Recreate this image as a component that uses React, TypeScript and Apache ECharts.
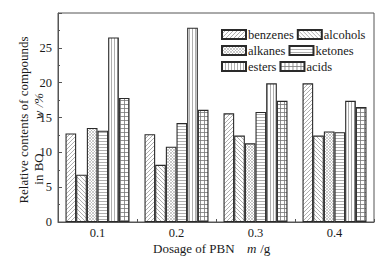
import React, { useEffect, useRef } from "react";
import * as echarts from "echarts";

const categories = ["0.1", "0.2", "0.3", "0.4"];
const seriesNames = ["benzenes", "alcohols", "alkanes", "ketones", "esters", "acids"];
const benzenes = [12.7, 12.6, 15.6, 19.9];
const alcohols = [6.8, 8.2, 12.4, 12.4];
const alkanes = [13.5, 10.8, 11.3, 13.0];
const ketones = [13.1, 14.2, 15.8, 12.9];
const esters = [26.5, 27.9, 19.9, 17.4];
const acids = [17.8, 16.1, 17.4, 16.5];
const yTicks = [0, 5, 10, 15, 20, 25];

const FONT = "Liberation Serif";

function makeTile(kind: string) {
  const s = kind === "alkanes" ? 3 : kind === "ketones" || kind === "esters" ? 3 : 4;
  const c = document.createElement("canvas");
  c.width = s;
  c.height = s;
  const g = c.getContext("2d")!;
  g.fillStyle = "#ffffff";
  g.fillRect(0, 0, s, s);
  g.strokeStyle = "#9a9a9a";
  g.lineWidth = 0.8;
  const line = (x1: number, y1: number, x2: number, y2: number) => {
    g.beginPath();
    g.moveTo(x1, y1);
    g.lineTo(x2, y2);
    g.stroke();
  };
  const fwd = () => {
    line(-1, s + 1, s + 1, -1);
    line(-1, 1, 1, -1);
    line(s - 1, s + 1, s + 1, s - 1);
  };
  const back = () => {
    line(-1, -1, s + 1, s + 1);
    line(s - 1, -1, s + 1, 1);
    line(-1, s - 1, 1, s + 1);
  };
  if (kind === "benzenes") fwd();
  else if (kind === "alcohols") back();
  else if (kind === "alkanes") {
    g.strokeStyle = "#a8a8a8";
    g.lineWidth = 0.6;
    fwd();
    back();
  } else if (kind === "ketones") {
    line(0, 0.5, s, 0.5);
  } else if (kind === "esters") {
    line(0.5, 0, 0.5, s);
  } else if (kind === "acids") {
    g.strokeStyle = "#777777";
    line(0, 0.5, s, 0.5);
    line(0.5, 0, 0.5, s);
  }
  return { image: c, repeat: "repeat", imageWidth: s, imageHeight: s };
}

export default function App() {
  const ref = useRef<HTMLDivElement>(null);
  useEffect(() => {
    if (!ref.current) return;
    const chart = echarts.init(ref.current, undefined, { renderer: "svg" });
    const dataSets = [benzenes, alcohols, alkanes, ketones, esters, acids];
    const series = seriesNames.map((name, i) => ({
      name,
      type: "bar",
      data: dataSets[i],
      barGap: "0%",
      barCategoryGap: "19%",
      itemStyle: {
        color: makeTile(name) as any,
        borderColor: "#2a2a2a",
        borderWidth: 1.1,
      },
      emphasis: { disabled: true },
    }));
    chart.setOption({
      animation: false,
      textStyle: { fontFamily: FONT },
      grid: {
        left: 58,
        right: 11,
        top: 13,
        bottom: 38,
        show: true,
        borderColor: "#555",
        borderWidth: 1,
        backgroundColor: "transparent",
      },
      legend: {
        left: 221,
        top: 28,
        width: 148,
        orient: "horizontal",
        itemWidth: 24,
        itemHeight: 9,
        itemGap: 3,
        icon: "rect",
        padding: 0,
        textStyle: {
          fontFamily: FONT,
          fontSize: 12.5,
          color: "#1a1a1a",
          padding: [0, 0, 0, -3],
          lineHeight: 10,
        },
        data: seriesNames,
      },
      xAxis: {
        type: "category",
        data: categories,
        axisLine: { show: true, lineStyle: { color: "#555", width: 1 } },
        axisTick: { show: true, inside: true, length: 3, lineStyle: { color: "#555" } },
        axisLabel: { fontFamily: FONT, fontSize: 12.5, color: "#1a1a1a", margin: 4 },
        splitLine: { show: false },
      },
      yAxis: {
        type: "value",
        min: 0,
        max: 30,
        interval: 5,
        axisLine: { show: true, lineStyle: { color: "#555", width: 1 } },
        axisTick: { show: true, inside: true, length: 4, lineStyle: { color: "#555" } },
        minorTick: { show: true, splitNumber: 2, length: 2, lineStyle: { color: "#555" } },
        axisLabel: {
          fontFamily: FONT,
          fontSize: 12.5,
          color: "#1a1a1a",
          margin: 6,
          formatter: (v: number) => (yTicks.indexOf(v) >= 0 ? String(v) : ""),
        },
        splitLine: { show: false },
      },
      series,
      graphic: [
        {
          type: "text",
          x: 23,
          y: 120,
          rotation: Math.PI / 2,
          style: {
            text: "Relative contents of compounds",
            font: `13px ${FONT}`,
            fill: "#1a1a1a",
            textAlign: "center",
            textVerticalAlign: "middle",
          },
        },
        {
          type: "text",
          x: 38,
          y: 169,
          rotation: Math.PI / 2,
          style: {
            text: "in BO",
            font: `13px ${FONT}`,
            fill: "#1a1a1a",
            textAlign: "center",
            textVerticalAlign: "middle",
          },
        },
        {
          type: "text",
          x: 38,
          y: 106,
          rotation: Math.PI / 2,
          style: {
            text: "w /%",
            font: `italic 13px ${FONT}`,
            fill: "#1a1a1a",
            textAlign: "center",
            textVerticalAlign: "middle",
          },
        },
        {
          type: "text",
          x: 153,
          y: 248,
          style: {
            text: "Dosage of PBN",
            font: `13px ${FONT}`,
            fill: "#1a1a1a",
            textAlign: "left",
            textVerticalAlign: "middle",
          },
        },
        {
          type: "text",
          x: 247,
          y: 248,
          style: {
            text: "m",
            font: `italic 13px ${FONT}`,
            fill: "#1a1a1a",
            textAlign: "left",
            textVerticalAlign: "middle",
          },
        },
        {
          type: "text",
          x: 257,
          y: 248,
          style: {
            text: " /g",
            font: `13px ${FONT}`,
            fill: "#1a1a1a",
            textAlign: "left",
            textVerticalAlign: "middle",
          },
        },
      ],
    });
    return () => chart.dispose();
  }, []);
  return <div ref={ref} style={{ width: 385, height: 260, position: "absolute", left: 0, top: 0 }} />;
}
